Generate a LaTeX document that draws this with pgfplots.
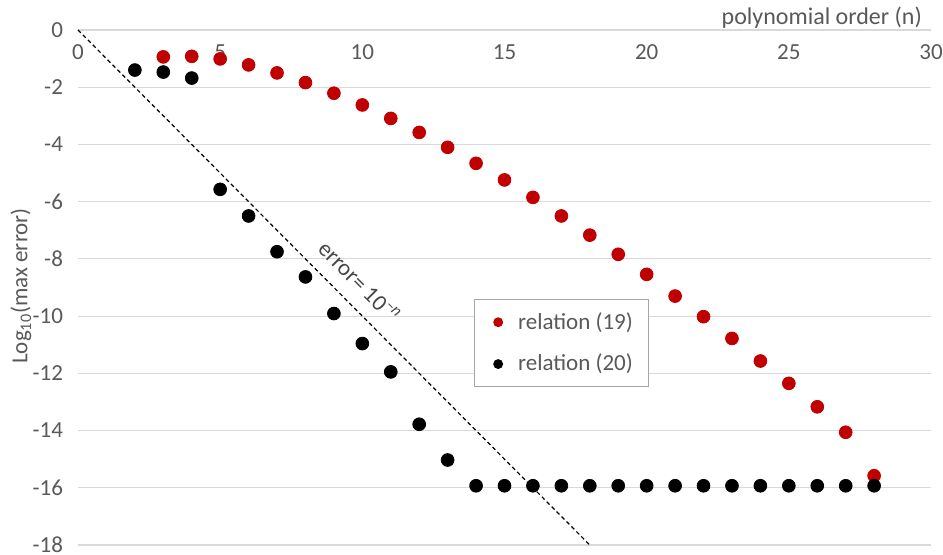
\documentclass[border=0pt]{standalone}
\usepackage{fontspec}
\setmainfont{Carlito}
\usepackage{pgfplots}
\pgfplotsset{compat=1.18}
\definecolor{redpt}{RGB}{192,0,0}
\definecolor{txtgray}{RGB}{89,89,89}
\definecolor{gridgray}{RGB}{217,217,217}
\begin{document}
\begin{tikzpicture}[font=\fontsize{11.5}{14}\selectfont]
\begin{axis}[
  scale only axis,
  width=426.5pt, height=257.5pt,
  xmin=0, xmax=30, ymin=-18, ymax=0,
  axis line style={draw=none},
  xtick={0,5,10,15,20,25,30},
  xticklabels={0,5,10,15,20,25,30},
  ytick={-18,-16,-14,-12,-10,-8,-6,-4,-2,0},
  yticklabels={-18,-16,-14,-12,-10,-8,-6,-4,-2,0},
  xticklabel pos=upper,
  xticklabel style={anchor=north, yshift=-4pt, text=txtgray},
  yticklabel style={xshift=-4pt, text=txtgray},
  major tick length=0pt,
  ymajorgrids,
  major grid style={gridgray, line width=0.6pt},
  clip=false,
  legend style={at={(rel axis cs:0.464,0.478)}, anchor=north west,
    draw=gray!70, line width=0.5pt, fill=white,
    font=\fontsize{11.5}{14}\selectfont, text=txtgray,
    row sep=7pt, inner xsep=6pt, inner ysep=4.5pt},
  legend cell align=left,
  legend image code/.code={\path (-2.85pt,0pt) (10.55pt,0pt);\draw[#1, mark size=2.2pt] plot coordinates {(0.1cm,0cm)};},
]
\addplot[only marks, mark=*, mark size=3.2pt, color=redpt] coordinates {
(3,-0.94) (4,-0.92) (5,-1.01) (6,-1.22) (7,-1.50) (8,-1.84) (9,-2.21) (10,-2.62)
(11,-3.09) (12,-3.58) (13,-4.10) (14,-4.66) (15,-5.24) (16,-5.85) (17,-6.50)
(18,-7.17) (19,-7.84) (20,-8.54) (21,-9.30) (22,-10.02) (23,-10.78) (24,-11.57)
(25,-12.35) (26,-13.17) (27,-14.06) (28,-15.58)};
\addlegendentry{relation (19)\hspace{1.5pt}}
\addplot[only marks, mark=*, mark size=3.2pt, color=black] coordinates {
(2,-1.40) (3,-1.47) (4,-1.68) (5,-5.57) (6,-6.50) (7,-7.75) (8,-8.63) (9,-9.91)
(10,-10.96) (11,-11.95) (12,-13.78) (13,-15.03) (14,-15.93) (15,-15.93) (16,-15.93)
(17,-15.93) (18,-15.93) (19,-15.93) (20,-15.93) (21,-15.93) (22,-15.93) (23,-15.93)
(24,-15.93) (25,-15.93) (26,-15.93) (27,-15.93) (28,-15.93)};
\addlegendentry{relation (20)\hspace{1.5pt}}
\addplot[black, dashed, line width=0.6pt, dash pattern=on 2pt off 1.5pt, forget plot] coordinates {(0,0) (18,-18)};
\node[rotate=-45, text=txtgray!80!black] at (axis cs:9.9,-8.8) {error= 10\textsuperscript{–\textit{n}}};
\node[anchor=base east, text=txtgray, font=\fontsize{12}{14}\selectfont] at ([xshift=-1pt, yshift=2.5pt]rel axis cs:1,1) {polynomial order (n)};
\node[rotate=90, text=txtgray] at ([xshift=-28.5pt]rel axis cs:0,0.503) {Log\textsubscript{10}(max error)};
\coordinate (bl) at (rel axis cs:0,0);
\coordinate (tr) at (rel axis cs:1,1);
\end{axis}
\pgfresetboundingbox
\path[use as bounding box] ([xshift=-39pt,yshift=-5pt]bl) rectangle ([xshift=6pt,yshift=15pt]tr);
\end{tikzpicture}
\end{document}
